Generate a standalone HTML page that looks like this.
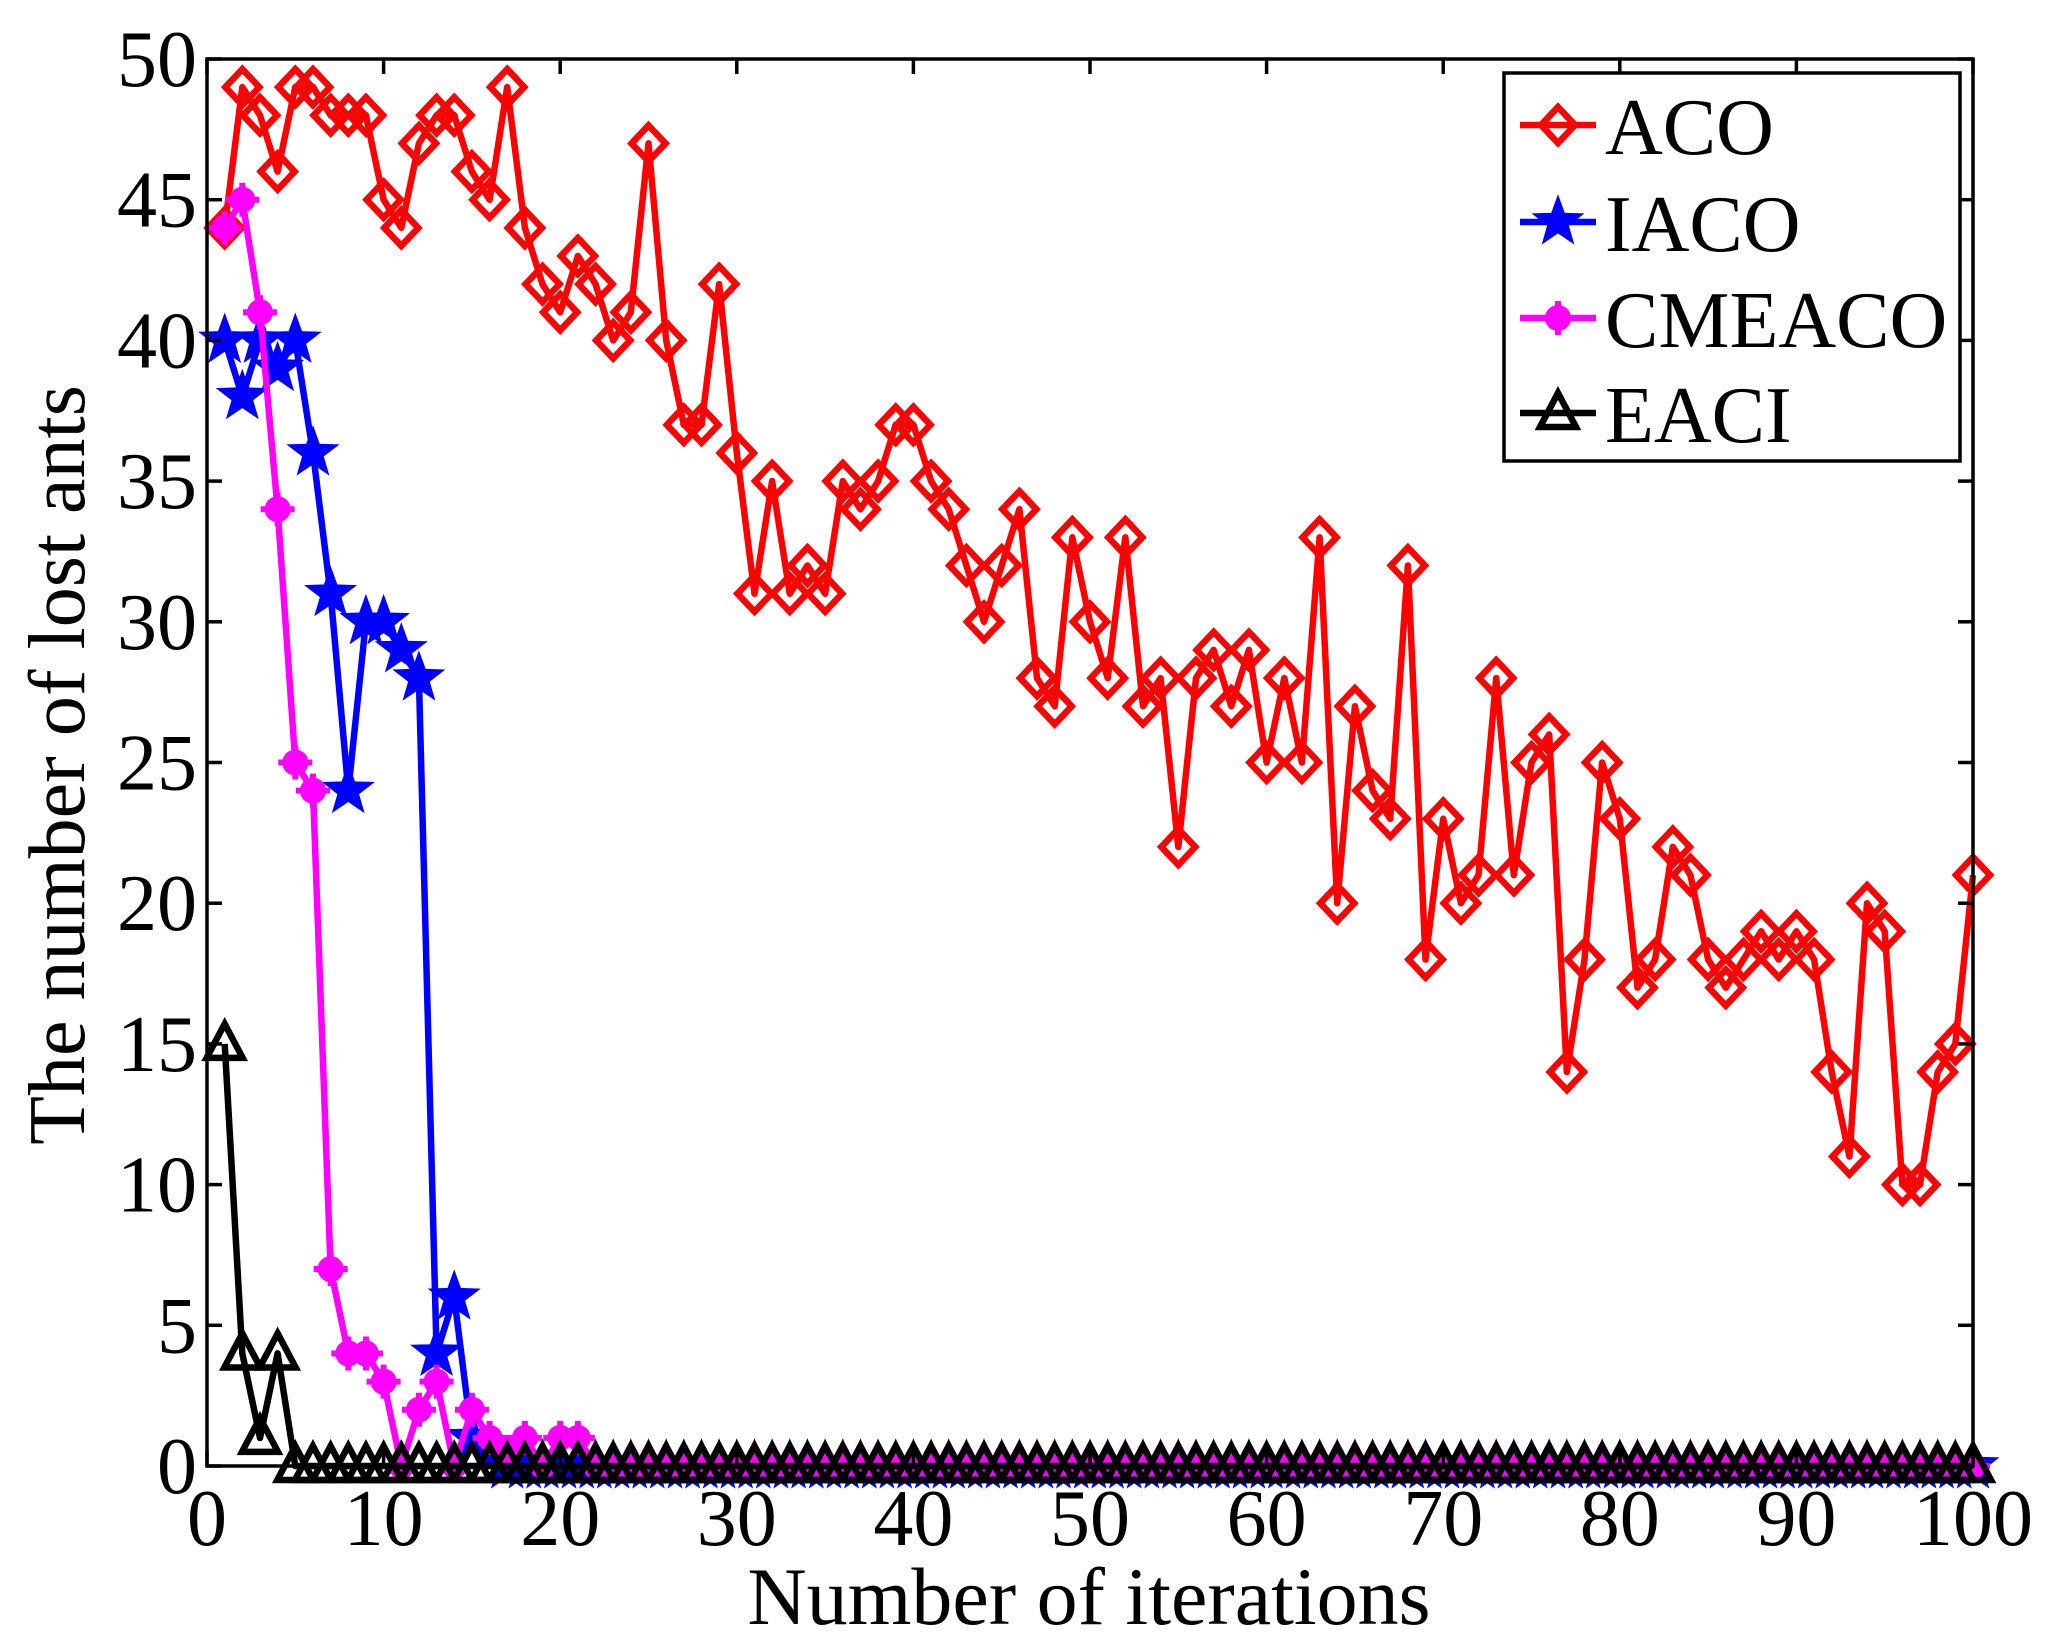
<!DOCTYPE html>
<html><head><meta charset="utf-8"><style>
html,body{margin:0;padding:0;background:#fff;}
svg{display:block;font-family:"Liberation Serif",serif;}
</style></head><body>
<svg id="s" width="2049" height="1642" viewBox="0 0 2049 1642" xmlns="http://www.w3.org/2000/svg">
<rect width="2049" height="1642" fill="#fff"/>
<g id="series"></g>
<rect x="207" y="59" width="1766" height="1407" fill="none" stroke="#000" stroke-width="3.5"/>
<g id="ticks" stroke="#000" stroke-width="3.5"></g>
<g id="labels" font-size="80" fill="#000"></g>
<text x="1089" y="1624" font-size="82" text-anchor="middle">Number of iterations</text>
<text transform="translate(84,765) rotate(-90)" font-size="80" text-anchor="middle">The number of lost ants</text>
<g id="legend">
<rect x="1504" y="73" width="456" height="388" fill="#fff" stroke="#000" stroke-width="3.5"/>
</g>
</svg>
<script>
const NS="http://www.w3.org/2000/svg";
const X=v=>207+v*17.66, Y=v=>1466-v*28.14;
function el(p,t,a,txt){const e=document.createElementNS(NS,t);for(const k in a)e.setAttribute(k,a[k]);if(txt!==undefined)e.textContent=txt;p.appendChild(e);return e;}
const ticks=document.getElementById('ticks'),labels=document.getElementById('labels');
for(let i=0;i<=10;i++){const x=X(i*10);
 el(ticks,'line',{x1:x,y1:1466,x2:x,y2:1451});el(ticks,'line',{x1:x,y1:59,x2:x,y2:74});
 el(labels,'text',{x:x,y:1545,'text-anchor':'middle'},String(i*10));}
for(let i=0;i<=10;i++){const y=Y(i*5);
 el(ticks,'line',{x1:207,y1:y,x2:222,y2:y});el(ticks,'line',{x1:1973,y1:y,x2:1958,y2:y});
 el(labels,'text',{x:197,y:y+27,'text-anchor':'end'},String(i*5));}
const aco=[44,49,48,46,49,49,48,48,48,45,44,47,48,48,46,45,49,44,42,41,43,42,40,41,47,40,37,37,42,36,31,35,31,32,31,35,34,35,37,37,35,34,32,30,32,34,28,27,33,30,28,33,27,28,22,28,29,27,29,25,28,25,33,20,27,24,23,32,18,23,20,21,28,21,25,26,14,18,25,23,17,18,22,21,18,17,18,19,18,19,18,14,11,20,19,10,10,14,15,21];
const iaco=[40,38,40,39,40,36,31,24,30,30,29,28,4,6,1,0.5];while(iaco.length<100)iaco.push(0);
const cme=[44,45,41,34,25,24,7,4,4,3,0,2,3,0,2,1,0.5,1,0,1,1];while(cme.length<100)cme.push(0);
const eaci=[15,4,1,4];while(eaci.length<100)eaci.push(0);
const g=document.getElementById('series');
function diamond(p,x,y,c){el(p,'path',{d:`M${x} ${y-18}L${x+17} ${y}L${x} ${y+18}L${x-17} ${y}Z`,fill:'none',stroke:c,'stroke-width':6.5});}
function star(p,x,y,c){let d='';for(let k=0;k<10;k++){const r=k%2?9:22,a=-Math.PI/2+k*Math.PI/5;d+=(k?'L':'M')+(x+r*Math.cos(a)).toFixed(1)+' '+(y+r*Math.sin(a)).toFixed(1);}el(p,'path',{d:d+'Z',fill:c,stroke:c,'stroke-width':4});}
function dot(p,x,y,c){el(p,'circle',{cx:x,cy:y,r:13,fill:c});el(p,'path',{d:`M${x-17} ${y}H${x+17}M${x} ${y-17}V${y+17}`,stroke:c,'stroke-width':6});}
function tri(p,x,y,c){el(p,'path',{d:`M${x} ${y-20}L${x+18} ${y+14}L${x-18} ${y+14}Z`,fill:'none',stroke:c,'stroke-width':6.5});}
function series(d,c,m){const pts=d.map((v,i)=>X(i+1).toFixed(1)+','+Y(v).toFixed(1)).join(' ');
 el(g,'polyline',{points:pts,fill:'none',stroke:c,'stroke-width':6.5,'stroke-linejoin':'round'});
 d.forEach((v,i)=>m(g,X(i+1),Y(v),c));}
series(aco,'#ff0000',diamond);
series(iaco,'#0000ff',star);
series(cme,'#ff00ff',dot);
series(eaci,'#000000',tri);
const lg=document.getElementById('legend');
[['ACO','#ff0000',diamond,125],['IACO','#0000ff',star,222],['CMEACO','#ff00ff',dot,318],['EACI','#000000',tri,413]].forEach(([t,c,m,y])=>{
 el(lg,'line',{x1:1520,y1:y,x2:1596,y2:y,stroke:c,'stroke-width':6.5});m(lg,1558,y,c);
 el(lg,'text',{x:1605,y:y+29,'font-size':80,fill:'#000'},t);});
</script>
</body></html>
